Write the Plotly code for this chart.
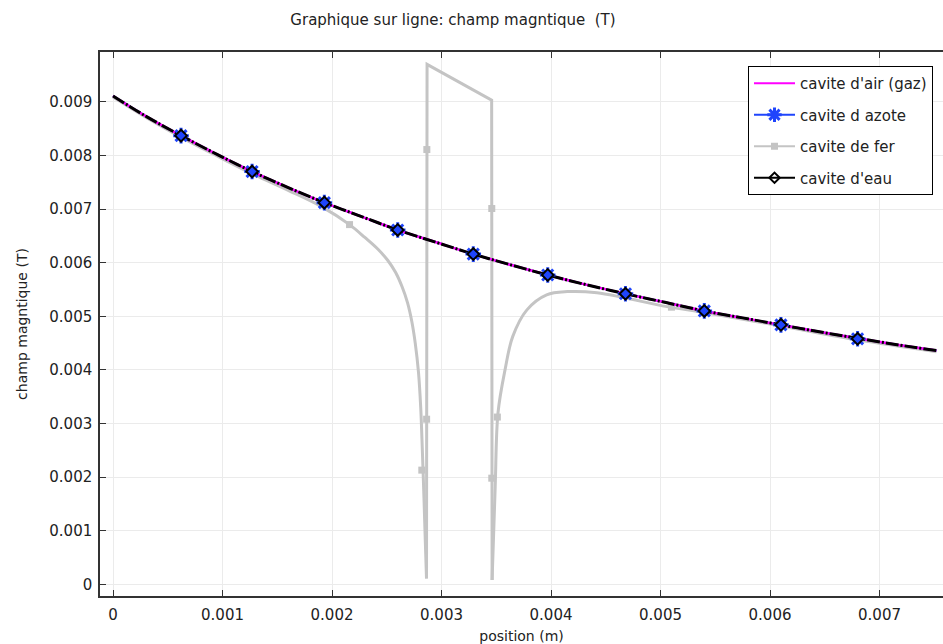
import plotly.graph_objects as go

# ---- data ----
x_main = [0, 0.00031, 0.000621, 0.00095, 0.00127, 0.0016, 0.00193, 0.00227, 0.0026,
          0.00295, 0.00329, 0.00363, 0.00397, 0.00432, 0.00468, 0.00504, 0.0054,
          0.00575, 0.0061, 0.00645, 0.0068, 0.00716, 0.00752]
y_air = [0.00911, 0.00872, 0.00837, 0.00802, 0.0077, 0.0074, 0.00712, 0.00686, 0.00661,
         0.00638, 0.00616, 0.00596, 0.00577, 0.00559, 0.00542, 0.00526, 0.0051,
         0.00497, 0.00484, 0.00471, 0.00459, 0.00447, 0.00436]

# markers (azote / eau) positions along the line
x_mark = [0.000621, 0.00127, 0.00193, 0.0026, 0.00329, 0.00397, 0.00468, 0.0054, 0.0061, 0.0068]
y_mark = [0.00837, 0.0077, 0.00712, 0.00661, 0.00616, 0.00577, 0.00542, 0.0051, 0.00484, 0.00458]

# iron cavity path, in three pieces: left smooth dip, rectangular jump, right smooth recovery
x_fer_left = [0, 0.00031, 0.000621, 0.00095, 0.00127, 0.0016, 0.0019, 0.00216,
              0.0023, 0.00242, 0.00251, 0.00258, 0.00264, 0.00269, 0.00273, 0.00276,
              0.00279, 0.00281, 0.002825, 0.00284, 0.002852, 0.002863]
y_fer_left = [0.00909, 0.0087, 0.00834, 0.00799, 0.00766, 0.00735, 0.00705, 0.00671,
              0.00647, 0.00625, 0.00604, 0.00582, 0.00555, 0.00525, 0.00489, 0.0045,
              0.00395, 0.0033, 0.0025, 0.0016, 0.0008, 0.00011]
x_fer_box = [0.002863, 0.002868, 0.003458, 0.003462]
y_fer_box = [0.00011, 0.0097, 0.00903, 0.00008]
x_fer_right = [0.003462, 0.00349, 0.003516, 0.00358, 0.00365, 0.00378, 0.00396,
               0.00415, 0.00442, 0.00466, 0.00506, 0.0054, 0.0061, 0.0068, 0.00752]
y_fer_right = [0.00008, 0.0018, 0.0032, 0.004, 0.00462, 0.00512, 0.0054,
               0.00546, 0.00544, 0.00535, 0.00518, 0.00507, 0.00482, 0.00456, 0.00434]
x_fer_mark = [0.00216, 0.00282, 0.002864, 0.002866, 0.003459, 0.003459, 0.00351, 0.0051]
y_fer_mark = [0.00671, 0.00213, 0.00308, 0.00811, 0.00701, 0.00198, 0.00312, 0.00517]

x_ticks = [0, 0.001, 0.002, 0.003, 0.004, 0.005, 0.006, 0.007]
x_tick_text = ["0", "0.001", "0.002", "0.003", "0.004", "0.005", "0.006", "0.007"]
y_ticks = [0, 0.001, 0.002, 0.003, 0.004, 0.005, 0.006, 0.007, 0.008, 0.009]
y_tick_text = ["0", "0.001", "0.002", "0.003", "0.004", "0.005", "0.006", "0.007", "0.008", "0.009"]

names = ["cavite d'air (gaz)", "cavite d azote", "cavite de fer", "cavite d'eau"]

MAGENTA = "#ff00ff"
BLUE = "#1f45fc"
GRAY = "#c4c4c4"
BLACK = "#000000"

fig = go.Figure()

# iron (gray) line
for xs, ys, shp in [(x_fer_left, y_fer_left, "spline"), (x_fer_box, y_fer_box, "linear"),
                    (x_fer_right, y_fer_right, "spline")]:
    fig.add_trace(go.Scatter(x=xs, y=ys, mode="lines", line=dict(color=GRAY, width=3, shape=shp),
                             showlegend=False, hoverinfo="skip"))
fig.add_trace(go.Scatter(x=x_fer_mark, y=y_fer_mark, mode="markers",
                         marker=dict(symbol="square", size=7, color=GRAY),
                         showlegend=False, hoverinfo="skip"))
# azote (blue)
fig.add_trace(go.Scatter(x=x_main, y=y_air, mode="lines", line=dict(color=BLUE, width=2, shape="spline"),
                         showlegend=False, hoverinfo="skip"))
# air (magenta)
fig.add_trace(go.Scatter(x=x_main, y=y_air, mode="lines", line=dict(color=MAGENTA, width=2.5, shape="spline"),
                         showlegend=False, hoverinfo="skip"))
# eau (black) dashed so magenta shows through
fig.add_trace(go.Scatter(x=x_main, y=y_air, mode="lines",
                         line=dict(color=BLACK, width=3, shape="spline", dash="13px,2px,2px,2px"),
                         showlegend=False, hoverinfo="skip"))
fig.add_trace(go.Scatter(x=x_mark, y=y_mark, mode="markers",
                         marker=dict(symbol="asterisk-open", size=13, color=BLUE,
                                     line=dict(color=BLUE, width=3)),
                         showlegend=False, hoverinfo="skip"))
fig.add_trace(go.Scatter(x=x_mark, y=y_mark, mode="markers",
                         marker=dict(symbol="diamond-open", size=9, color=BLACK,
                                     line=dict(color=BLACK, width=2)),
                         showlegend=False, hoverinfo="skip"))

# legend entries
fig.add_trace(go.Scatter(x=[None], y=[None], mode="lines", name=names[0],
                         line=dict(color=MAGENTA, width=2), legendgroup="a"))
fig.add_trace(go.Scatter(x=[None], y=[None], mode="lines+markers", name=names[1],
                         line=dict(color=BLUE, width=2),
                         marker=dict(symbol="asterisk-open", size=12, color=BLUE,
                                     line=dict(color=BLUE, width=3)), legendgroup="b"))
fig.add_trace(go.Scatter(x=[None], y=[None], mode="lines+markers", name=names[2],
                         line=dict(color=GRAY, width=2),
                         marker=dict(symbol="square", size=7, color=GRAY), legendgroup="c"))
fig.add_trace(go.Scatter(x=[None], y=[None], mode="lines+markers", name=names[3],
                         line=dict(color=BLACK, width=2),
                         marker=dict(symbol="diamond-open", size=8, color=BLACK,
                                     line=dict(color=BLACK, width=2)), legendgroup="d"))

axis_font = dict(family="DejaVu Sans", size=15, color="#222222")
title_font = dict(family="DejaVu Sans", size=14, color="#222222")

fig.update_layout(
    width=943, height=644,
    margin=dict(l=100, r=0, t=52, b=48),
    paper_bgcolor="white", plot_bgcolor="white",
    font=dict(family="DejaVu Sans", size=14, color="#222222"),
    title=dict(text="Graphique sur ligne: champ magntique  (T)", x=453 / 943, xanchor="center",
               xref="container", y=1 - 20 / 644, yref="container", yanchor="middle",
               font=dict(family="DejaVu Sans", size=15, color="#222222")),
    xaxis=dict(range=[-0.000119, 0.00758], tickvals=x_ticks, ticktext=x_tick_text,
               showgrid=True, gridcolor="#ebebeb", gridwidth=1, zeroline=False,
               showline=True, linecolor="#333333", linewidth=1.5, mirror="ticks",
               ticks="inside", ticklen=6, tickcolor="#333333", tickfont=axis_font,
               ticklabelstandoff=4, automargin=False,
               title=dict(text="position (m)", font=title_font, standoff=10)),
    yaxis=dict(range=[-0.000218, 0.00993], tickvals=y_ticks, ticktext=y_tick_text,
               showgrid=True, gridcolor="#ebebeb", gridwidth=1, zeroline=False,
               showline=True, linecolor="#333333", linewidth=1.5, mirror=False,
               ticks="inside", ticklen=6, tickcolor="#333333", tickfont=axis_font,
               ticklabelstandoff=3, automargin=False,
               title=dict(text="champ magntique (T)", font=title_font, standoff=18)),
    legend=dict(x=(748 - 100) / 843, y=(596 - 66) / 544, xanchor="left", yanchor="top",
                bgcolor="white", bordercolor="#000000", borderwidth=1,
                font=dict(family="DejaVu Sans", size=15, color="#222222"),
                traceorder="grouped", tracegroupgap=9, itemwidth=41),
    showlegend=True,
)

fig.write_html("out.html", config={"displayModeBar": False},
               post_script="document.body.style.margin='0';")
